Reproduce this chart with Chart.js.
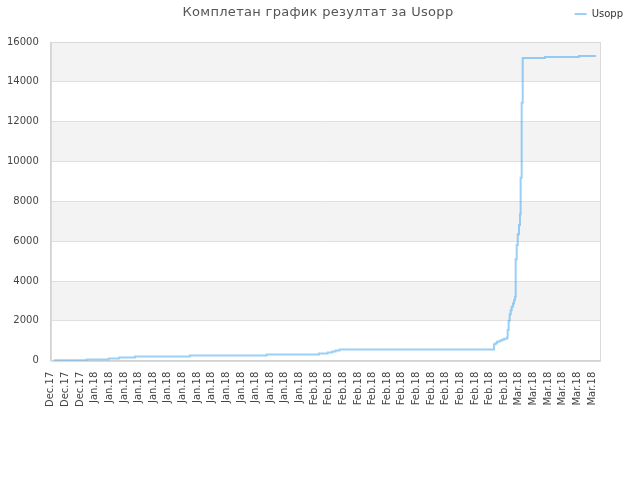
<!DOCTYPE html>
<html lang="sr">
<head>
    <meta charset="utf-8" />
    <title>Комплетан график резултат за Usopp</title>
    <script src="https://cdn.jsdelivr.net/npm/chart.js"></script>
    <style>
        body { margin: 0; background: #fff; }
        #scoreChart { display: block; }
    </style>
</head>
<body>
<canvas id="scoreChart" width="640" height="480"></canvas>

<script>
    // Chart text
    var chartTitle = 'Комплетан график резултат за Usopp';
    var seriesName = 'Usopp';

    // X axis: one label every 2 days
    var tickLabels = [
        'Dec.17', 'Dec.17', 'Dec.17',
        'Jan.18', 'Jan.18', 'Jan.18', 'Jan.18', 'Jan.18', 'Jan.18', 'Jan.18', 'Jan.18',
        'Jan.18', 'Jan.18', 'Jan.18', 'Jan.18', 'Jan.18', 'Jan.18', 'Jan.18',
        'Feb.18', 'Feb.18', 'Feb.18', 'Feb.18', 'Feb.18', 'Feb.18', 'Feb.18',
        'Feb.18', 'Feb.18', 'Feb.18', 'Feb.18', 'Feb.18', 'Feb.18', 'Feb.18',
        'Mar.18', 'Mar.18', 'Mar.18', 'Mar.18', 'Mar.18', 'Mar.18'
    ];

    // score changes: day (since first label) and the new score
    var days = [
        0.41, 4.88, 7.93, 9.34, 11.49, 19.02, 29.51, 36.66, 37.85, 38.48,
        38.95, 39.49, 60.60, 60.81, 61.01, 61.35, 61.66, 61.97, 62.38, 62.47,
        62.61, 62.75, 62.89, 63.02, 63.20, 63.34, 63.47, 63.57, 63.71, 63.85,
        64.02, 64.16, 64.25, 64.39, 64.53, 67.58, 72.23, 74.56
    ];
    var scores = [
        30, 65, 115, 165, 215, 265, 315, 365, 415, 465,
        515, 560, 830, 880, 950, 1000, 1050, 1100, 1165, 1540,
        2005, 2340, 2540, 2710, 2870, 3040, 3210, 5100, 5815, 6350,
        6820, 7350, 9190, 12950, 15200, 15250, 15300, 15300
    ];

    var points = days.map(function (d, i) { return { x: d, y: scores[i] }; });

    // alternating grey bands between the y grid lines, plus the frame
    var bandPlugin = {
        id: 'bands',
        beforeDraw: function (chart) {
            var ctx = chart.ctx, area = chart.chartArea, y = chart.scales.y;
            ctx.save();
            ctx.fillStyle = '#f3f3f3';
            for (var v = 16000; v > 0; v -= 4000) {
                var top = y.getPixelForValue(v), bottom = y.getPixelForValue(v - 2000);
                ctx.fillRect(area.left, top, area.right - area.left, bottom - top);
            }
            ctx.restore();
        },
        afterDatasetsDraw: function (chart) {
            var ctx = chart.ctx, area = chart.chartArea;
            ctx.save();
            ctx.strokeStyle = '#dadada';
            ctx.lineWidth = 1;
            ctx.strokeRect(Math.round(area.left) + 0.5, Math.round(area.top) + 0.5,
                Math.round(area.right - area.left), Math.round(area.bottom - area.top));
            ctx.restore();
        }
    };

    // centred title, drawn on the same row as the legend
    var titlePlugin = {
        id: 'rowTitle',
        afterDraw: function (chart) {
            var ctx = chart.ctx;
            ctx.save();
            ctx.font = '13px "DejaVu Sans"';
            ctx.letterSpacing = '0.3px';
            ctx.fillStyle = '#555';
            ctx.textAlign = 'center';
            ctx.textBaseline = 'middle';
            ctx.fillText(chartTitle, chart.width / 2 - 2, 13);
            ctx.restore();
        }
    };

    var ctx = document.getElementById('scoreChart').getContext('2d');
    var scoreChart = new Chart(ctx, {
        type: 'line',
        data: {
            datasets: [{
                label: seriesName,
                data: points,
                xAxisID: 'x',
                yAxisID: 'y',
                stepped: true,
                borderColor: 'rgba(54, 162, 235, 0.5)',
                backgroundColor: 'rgba(54, 162, 235, 0.5)',
                borderWidth: 2,
                pointRadius: 0,
                fill: false
            }]
        },
        options: {
            responsive: false,
            animation: false,
            layout: {
                padding: { left: -5, right: 8, top: 0, bottom: 70 }
            },
            plugins: {
                title: { display: false },
                tooltip: { enabled: false },
                legend: {
                    position: 'top',
                    align: 'end',
                    labels: {
                        usePointStyle: true,
                        pointStyle: 'line',
                        pointStyleWidth: 12,
                        boxHeight: 2,
                        color: '#333',
                        padding: 9,
                        font: { family: 'DejaVu Sans', size: 10 }
                    }
                }
            },
            scales: {
                x: {
                    type: 'linear',
                    min: 0,
                    max: 75.1,
                    afterBuildTicks: function (scale) {
                        scale.ticks = tickLabels.map(function (l, i) { return { value: i * 2 }; });
                    },
                    grid: { display: false },
                    border: { display: true, color: '#d4d4d4' },
                    ticks: {
                        autoSkip: false,
                        minRotation: 90,
                        maxRotation: 90,
                        padding: 3,
                        color: '#444',
                        font: { family: 'DejaVu Sans', size: 10 },
                        callback: function (value) {
                            return tickLabels[Math.round(value / 2)];
                        }
                    }
                },
                y: {
                    min: 0,
                    max: 16000,
                    grid: { color: '#e0e0e0', drawTicks: false },
                    border: { display: true, color: '#d4d4d4' },
                    ticks: {
                        stepSize: 2000,
                        padding: 12,
                        color: '#444',
                        font: { family: 'DejaVu Sans', size: 10 },
                        callback: function (value) { return String(value); }
                    }
                },
                // empty axes that only keep space free above and right of the plot
                xTop: {
                    type: 'linear',
                    position: 'top',
                    min: 0,
                    max: 1,
                    grid: { display: false },
                    border: { display: false },
                    ticks: { display: false },
                    afterFit: function (scale) { scale.height = 13; }
                },
                yRight: {
                    type: 'linear',
                    position: 'right',
                    min: 0,
                    max: 1,
                    grid: { display: false },
                    border: { display: false },
                    ticks: { display: false },
                    afterFit: function (scale) { scale.width = 32; }
                }
            }
        },
        plugins: [bandPlugin, titlePlugin]
    });
</script>
</body>
</html>
